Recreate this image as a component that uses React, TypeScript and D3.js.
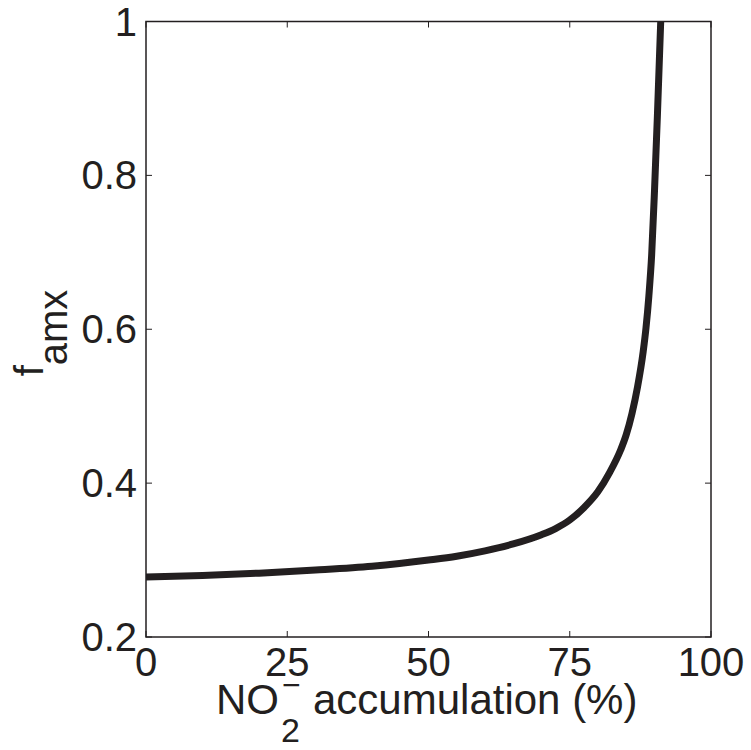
import React from "react";
import * as d3 from "d3";

const accumulation = [0, 10, 20, 30, 40, 50, 55, 60, 65, 70, 72.5, 75, 77.5, 80, 82, 84, 85, 86, 87, 88, 88.5, 89, 89.5, 90, 90.5, 91.1];
const famx = [0.278, 0.28, 0.283, 0.287, 0.292, 0.3, 0.305, 0.312, 0.321, 0.333, 0.341, 0.352, 0.368, 0.389, 0.413, 0.443, 0.463, 0.49, 0.525, 0.571, 0.602, 0.643, 0.697, 0.78, 0.875, 1.0];
const xTicks = [0, 25, 50, 75, 100];
const yTicks = [0.2, 0.4, 0.6, 0.8, 1];
const yTickLabels = ["0.2", "0.4", "0.6", "0.8", "1"];

const W = 751;
const H = 750;
const L = 146, R = 711, T = 21.5, B = 637;
const INK = "#231f20";
const FONT = "'Liberation Sans', Arial, Helvetica, sans-serif";

export default function App() {
  const x = d3.scaleLinear().domain([0, 100]).range([L, R]);
  const y = d3.scaleLinear().domain([0.2, 1]).range([B, T]);
  const pts: [number, number][] = accumulation.map((a, i) => [a, famx[i]]);
  const line = d3
    .line<[number, number]>()
    .x((d) => x(d[0]))
    .y((d) => y(d[1]))
    .curve(d3.curveMonotoneX);
  const tl = 6;
  return (
    <svg width={W} height={H} style={{ position: "absolute", left: 0, top: 0, background: "#fff" }} fontFamily={FONT}>
      <rect x={0} y={0} width={W} height={H} fill="#fff" />
      <defs>
        <clipPath id="plot">
          <rect x={L} y={T} width={R - L} height={B - T} />
        </clipPath>
      </defs>
      <path d={line(pts) || ""} fill="none" stroke={INK} strokeWidth={7} clipPath="url(#plot)" />
      <rect x={L} y={T} width={R - L} height={B - T} fill="none" stroke={INK} strokeWidth={1.5} />
      {xTicks.map((t) => (
        <g key={"x" + t}>
          <line x1={x(t)} x2={x(t)} y1={B} y2={B - tl} stroke={INK} strokeWidth={1} />
          <line x1={x(t)} x2={x(t)} y1={T} y2={T + tl} stroke={INK} strokeWidth={1} />
          <text x={x(t)} y={676} textAnchor="middle" fontSize={40} fill={INK}>
            {t}
          </text>
        </g>
      ))}
      {yTicks.map((t, i) => (
        <g key={"y" + t}>
          <line x1={L} x2={L + tl} y1={y(t)} y2={y(t)} stroke={INK} strokeWidth={1} />
          <line x1={R} x2={R - tl} y1={y(t)} y2={y(t)} stroke={INK} strokeWidth={1} />
          <text x={137} y={y(t) + 14} textAnchor="end" fontSize={40} fill={INK}>
            {yTickLabels[i]}
          </text>
        </g>
      ))}
      <text transform="translate(43, 333) rotate(-90)" textAnchor="middle" fontSize={40} fill={INK}>
        f<tspan dy={24}>amx</tspan>
      </text>
      <g fill={INK}>
        <text x={216} y={714} fontSize={42}>NO</text>
        <text x={281} y={742} fontSize={34}>2</text>
        <text x={282} y={696} fontSize={32}>−</text>
        <text x={313} y={714} fontSize={42}>accumulation (%)</text>
      </g>
    </svg>
  );
}
